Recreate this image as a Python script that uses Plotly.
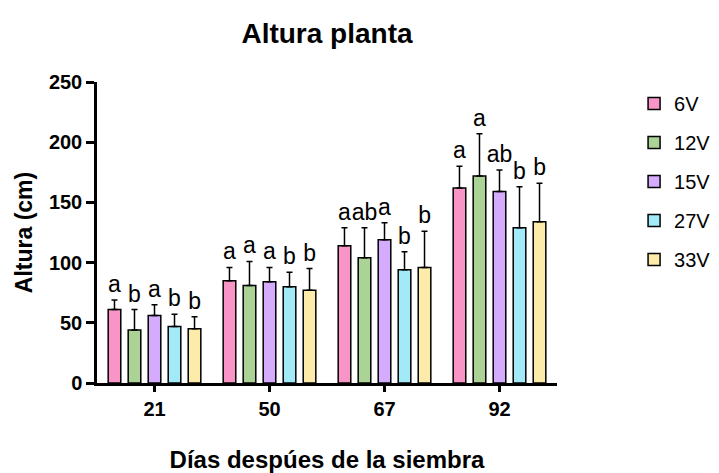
import plotly.graph_objects as go

categories = ["21", "50", "67", "92"]
series = ["6V", "12V", "15V", "27V", "33V"]
colors = ["#F995C6", "#AAD395", "#D5ABFD", "#A2EAF8", "#FDEBAA"]

values = {
    "6V":  [61, 85, 114, 162],
    "12V": [44, 81, 104, 172],
    "15V": [56, 84, 119, 159],
    "27V": [47, 80, 94, 129],
    "33V": [45, 77, 96, 134],
}
errors = {
    "6V":  [8, 11, 15, 18],
    "12V": [17, 20, 25, 35],
    "15V": [9, 12, 14, 18],
    "27V": [10, 12, 15, 34],
    "33V": [10, 18, 30, 32],
}
letters = {
    "6V":  ["a", "a", "a", "a"],
    "12V": ["b", "a", "ab", "a"],
    "15V": ["a", "a", "a", "ab"],
    "27V": ["b", "b", "b", "b"],
    "33V": ["b", "b", "b", "b"],
}

FONT = "Liberation Sans, Arial, sans-serif"

# page body has an 8px default margin
W, H = 719, 465
L, R, T, B = 89, 170, 74, 90

fig = go.Figure()
for s, c in zip(series, colors):
    fig.add_trace(go.Bar(
        x=categories, y=values[s], name=s, offsetgroup=s, legendgroup=s,
        marker=dict(color=c, line=dict(color="black", width=1.5)),
        error_y=dict(type="data", symmetric=False, array=errors[s],
                     arrayminus=[0] * len(errors[s]),
                     color="black", thickness=1.5, width=3),
    ))
for s in series:
    tops = [v + e for v, e in zip(values[s], errors[s])]
    fig.add_trace(go.Bar(
        x=categories, y=tops, offsetgroup=s, showlegend=False,
        marker=dict(color="rgba(0,0,0,0)", line=dict(width=0)),
        text=letters[s], textposition="outside", constraintext="none",
        textfont=dict(family=FONT, size=23, color="black"),
        cliponaxis=False, hoverinfo="skip",
    ))

fig.update_layout(
    width=W, height=H,
    margin=dict(l=L, r=R, t=T, b=B, autoexpand=False),
    paper_bgcolor="white", plot_bgcolor="white",
    barmode="group", bargap=0.13, bargroupgap=0.37,
    font=dict(family=FONT, color="black"),
    title=dict(text="<b>Altura planta</b>", x=(L + (W - L - R) / 2) / W,
               xanchor="center", y=1 - 25 / H, yanchor="middle",
               font=dict(size=28, family=FONT, color="black")),
    showlegend=True,
    legend=dict(x=1.1545, xanchor="left", y=1.013, yanchor="top",
                traceorder="grouped", tracegroupgap=10,
                borderwidth=6, bordercolor="rgba(0,0,0,0)",
                font=dict(size=20, family=FONT, color="black"),
                bgcolor="rgba(0,0,0,0)"),
)
fig.update_xaxes(
    type="category", range=[-0.5, 3.5], automargin=False,
    showline=True, linecolor="black", linewidth=2.5,
    ticks="outside", ticklen=6, tickwidth=2.5, tickcolor="black",
    tickfont=dict(size=20, family=FONT, color="black", weight="bold"),
    title=dict(text="<b>Días despúes de la siembra</b>", standoff=35,
               font=dict(size=24, family=FONT, color="black")),
    showgrid=False, zeroline=False,
)
fig.update_yaxes(
    range=[0, 250], tickvals=[0, 50, 100, 150, 200, 250], automargin=False,
    showline=True, linecolor="black", linewidth=2.5,
    ticks="outside", ticklen=8, tickwidth=2.5, tickcolor="black",
    tickfont=dict(size=20, family=FONT, color="black", weight="bold"),
    title=dict(text="<b>Altura (cm)</b>", standoff=10,
               font=dict(size=23, family=FONT, color="black")),
    showgrid=False, zeroline=False,
)

fig.write_html("out.html")
